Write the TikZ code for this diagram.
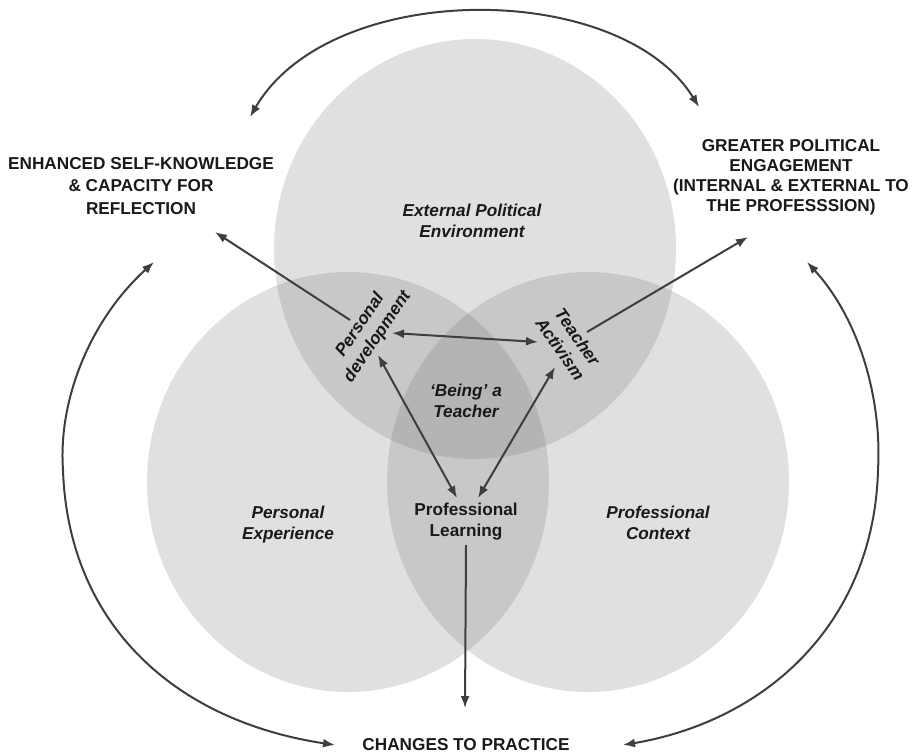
\documentclass[tikz,border=0pt]{standalone}
\usepackage{fontspec}
\setmainfont{Liberation Sans}
\usetikzlibrary{arrows.meta,positioning}
\definecolor{ink}{RGB}{62,62,62}

\begin{document}
\begin{tikzpicture}[x=0.5pt,y=-0.5pt]
  % three overlapping circles, the outcomes round them and the feedback loops
  \tikzset{venn/.style={fill=black!60,fill opacity=0.2},
    lbl/.style={font=\fontsize{8.6}{10.5}\selectfont\bfseries,align=center,text=black!90},
    itl/.style={lbl,font=\fontsize{8.6}{10.5}\selectfont\bfseries\itshape},
    arr/.style={-{Latex[length=6pt,width=4.5pt]},line width=1pt,ink},
    darr/.style={arr,{Latex[length=6pt,width=4.5pt]}-{Latex[length=6pt,width=4.5pt]}}}
  \useasboundingbox (0,0) rectangle (913,755);
  \fill[venn] (475,249) ellipse [x radius=201,y radius=210];
  \fill[venn] (348,482) ellipse [x radius=201,y radius=210];
  \fill[venn] (588,482) ellipse [x radius=201,y radius=210];

  \node[lbl,font=\fontsize{8.6}{11.25}\selectfont\bfseries] (enh) at (141,186) {ENHANCED SELF-KNOWLEDGE\\ \& CAPACITY FOR\\ REFLECTION};
  \node[lbl,font=\fontsize{8.6}{10}\selectfont\bfseries] (pol) at (791,177) {GREATER POLITICAL\\ ENGAGEMENT\\ (INTERNAL \& EXTERNAL TO\\ THE PROFESSSION)};
  \node[itl] (ext) at (472,221) {External Political\\ Environment};
  \node[itl] (being) at (466,401) {`Being' a\\ Teacher};
  \node[itl,rotate=56] (persdev) at (369,331) {Personal\\ development};
  \node[itl,rotate=-55] (activism) at (569,343) {Teacher\\ Activism};
  \node[itl] (persexp) at (288,525) {Personal\\ Experience};
  \node[lbl] (proflearn) at (466,522) {Professional\\ Learning};
  \node[itl] (profctx) at (658,523) {Professional\\ Context};
  \node[lbl] (changes) at (466,745) {CHANGES TO PRACTICE};

  \coordinate (enh-in) at (215,232);   \coordinate (pd-out) at (350,320);
  \coordinate (pol-in) at (748,237);   \coordinate (ta-out) at (587,332);
  \coordinate (pd-r) at (392,333);     \coordinate (ta-l) at (538,342);
  \coordinate (pd-b) at (378,355);     \coordinate (ta-b) at (555,367);
  \coordinate (pl-l) at (457,498);     \coordinate (pl-r) at (478,498);
  \coordinate (pl-b) at (466,545);     \coordinate (ch-t) at (465,708);
  \coordinate (enh-t) at (250,117);    \coordinate (pol-t) at (699,107);
  \coordinate (enh-b) at (154,262);    \coordinate (pol-b) at (807,262);
  \coordinate (ch-l) at (335,745);     \coordinate (ch-r) at (623,745);

  \draw[arr] (pd-out) -- (enh-in);
  \draw[arr] (ta-out) -- (pol-in);
  \draw[darr] (pd-r) -- (ta-l);
  \draw[darr] (pd-b) -- (pl-l);
  \draw[darr] (ta-b) -- (pl-r);
  \draw[arr] (pl-b) -- (ch-t);
  \draw[darr] (enh-t) .. controls (330,-21) and (620,-21) .. (pol-t);
  \draw[darr] (enh-b) .. controls (90,320) and (58,400) .. (63,470) .. controls (68,620) and (170,720) .. (ch-l);
  \draw[darr] (pol-b) .. controls (860,320) and (882,400) .. (878,470) .. controls (874,620) and (770,720) .. (ch-r);
\end{tikzpicture}
\end{document}
